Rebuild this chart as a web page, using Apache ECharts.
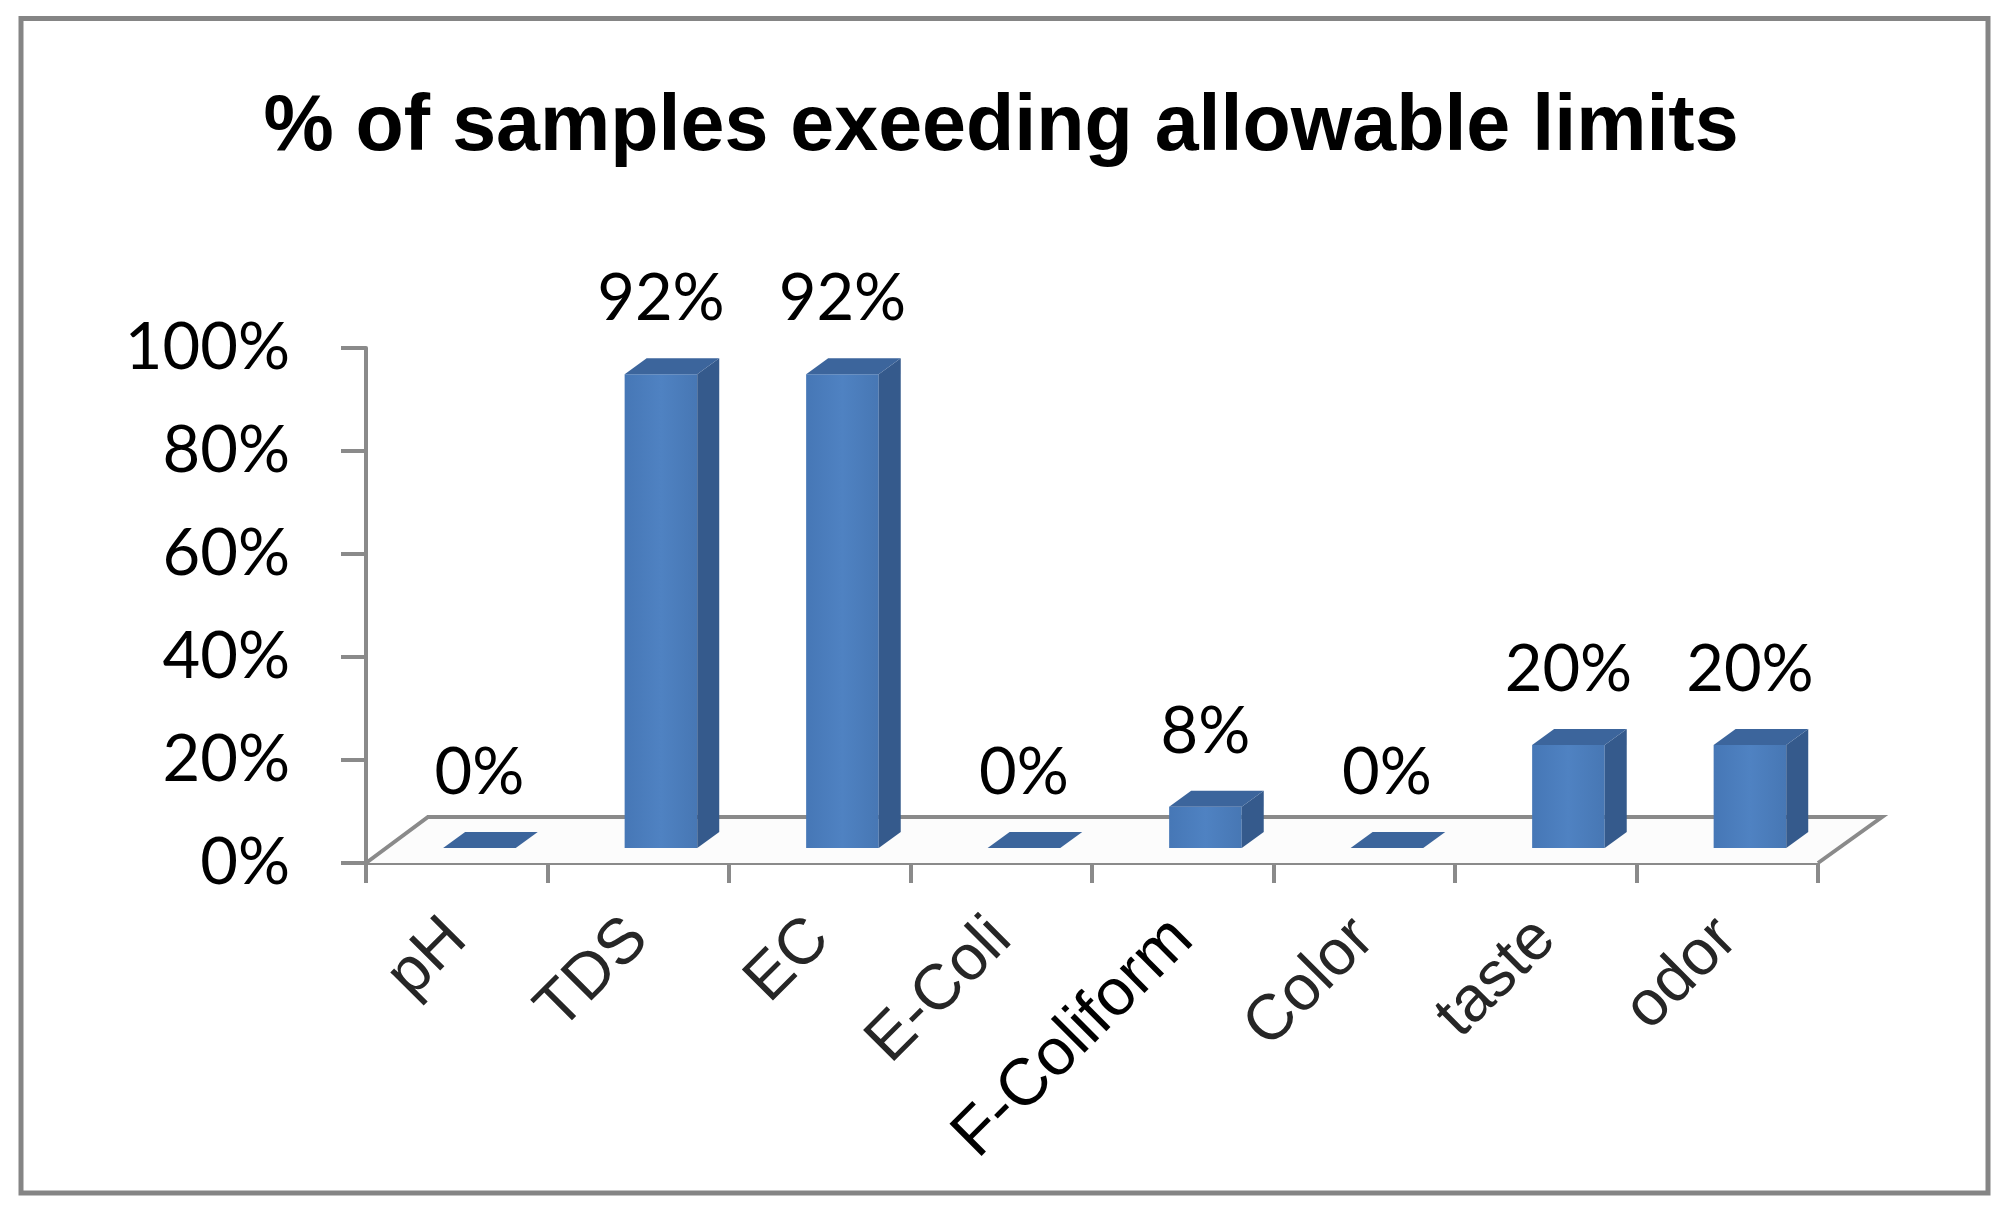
<!DOCTYPE html>
<html>
<head>
<meta charset="utf-8">
<script src="https://cdn.jsdelivr.net/npm/echarts/dist/echarts.min.js"></script>
<style>
  html, body { margin: 0; padding: 0; background: #ffffff; }
  #chart { width: 2002px; height: 1209px; }
</style>
</head>
<body>
<div id="chart"></div>
<script>
const titleText = '% of samples exeeding allowable limits';
const categories = ['pH', 'TDS', 'EC', 'E-Coli', 'F-Coliform', 'Color', 'taste', 'odor'];
const values = [0, 92, 92, 0, 8, 0, 20, 20];
const yMin = 0;
const yMax = 100;
const yStep = 20;

const chart = echarts.init(document.getElementById('chart'), null, { renderer: 'canvas' });

const axisGray = '#8a8a8a';

function renderFloor(params, api) {
  const c0 = api.coord([0, 0]);
  const bw = api.size([1, 0])[0];
  const left = c0[0] - bw / 2;
  const right = c0[0] + bw * (categories.length - 0.5);
  const y = c0[1];
  const dxL = 62, dxR = 64, dy = 46;
  const pts = [[left, y], [right, y], [right + dxR, y - dy], [left + dxL, y - dy]];
  return {
    type: 'group',
    children: [
      { type: 'polygon', shape: { points: pts }, style: { fill: '#fcfcfc', stroke: null } },
      { type: 'polyline', shape: { points: [[left, y], [left + dxL, y - dy], [right + dxR, y - dy], [right, y]] },
        style: { stroke: axisGray, lineWidth: 4, fill: null } }
    ]
  };
}

function renderBar(params, api) {
  const cat = api.value(0);
  const v = api.value(1);
  const base = api.coord([cat, 0]);
  const top = api.coord([cat, v]);
  const bw = api.size([1, 0])[0];
  const frontW = bw * 0.40;
  const cx = base[0] + bw * 0.125;
  const lift = 15, dx = 22, dy = 16;
  const x0 = cx - frontW / 2, x1 = cx + frontW / 2;
  const yb = base[1] - lift, yt = top[1] - lift;
  const children = [];
  if (yb - yt > 0.5) {
    children.push({
      type: 'rect',
      shape: { x: x0, y: yt, width: frontW, height: yb - yt },
      style: { fill: { type: 'linear', x: 0, y: 0, x2: 1, y2: 0,
        colorStops: [{ offset: 0, color: '#4677b6' }, { offset: 0.5, color: '#4f82c2' }, { offset: 1, color: '#4777b4' }] } }
    });
    children.push({
      type: 'polygon',
      shape: { points: [[x1, yb], [x1, yt], [x1 + dx, yt - dy], [x1 + dx, yb - dy]] },
      style: { fill: '#355a8c' }
    });
  }
  children.push({
    type: 'polygon',
    shape: { points: [[x0, yt], [x1, yt], [x1 + dx, yt - dy], [x0 + dx, yt - dy]] },
    style: { fill: '#3c659c' }
  });
  children.push({
    type: 'text',
    style: { x: cx, y: yt - 75, text: v + '%', fill: '#000000', fontSize: 65,
      fontFamily: 'Lato', align: 'center', verticalAlign: 'middle' }
  });
  return { type: 'group', children: children };
}

const option = {
  backgroundColor: '#ffffff',
  animation: false,
  title: {
    text: titleText,
    left: 'center',
    top: 89,
    padding: 0,
    textStyle: { fontSize: 79, fontWeight: 'bold', fontFamily: 'Liberation Sans', color: '#000000' }
  },
  graphic: [{
    type: 'rect',
    shape: { x: 21, y: 18.5, width: 1967, height: 1174.5 },
    style: { fill: null, stroke: '#858585', lineWidth: 5 },
    z: 100
  }],
  grid: { left: 366, right: 184, top: 348, bottom: 346, containLabel: false },
  xAxis: {
    type: 'category',
    data: categories,
    boundaryGap: true,
    axisLine: { show: true, lineStyle: { color: axisGray, width: 4 } },
    axisTick: { show: true, length: 20, alignWithLabel: false, lineStyle: { color: axisGray, width: 4 } },
    axisLabel: {
      interval: 0, rotate: 45, margin: 66, fontSize: 64, fontFamily: 'Liberation Sans', color: '#262626',
      formatter: function (val) { return val === 'F-Coliform' ? '{b|' + val + '}' : val; },
      rich: { b: { fontSize: 66, fontFamily: 'Liberation Sans', color: '#000000' } }
    },
    splitLine: { show: false }
  },
  yAxis: {
    type: 'value',
    min: yMin, max: yMax, interval: yStep,
    axisLine: { show: true, lineStyle: { color: axisGray, width: 4 } },
    axisTick: { show: true, length: 25, lineStyle: { color: axisGray, width: 4 } },
    axisLabel: { formatter: '{value}%', fontSize: 65, fontFamily: 'Lato', color: '#000000', margin: 76,
      padding: [12, 0, 0, 0] },
    splitLine: { show: false }
  },
  series: [
    { type: 'custom', name: 'floor', renderItem: renderFloor, data: [[0, 0]], z: 1, silent: true },
    { type: 'custom', name: 'bars', renderItem: renderBar,
      data: categories.map(function (c, i) { return [i, values[i]]; }), z: 3,
      encode: { x: 0, y: 1 } }
  ]
};

chart.setOption(option);
</script>
</body>
</html>
